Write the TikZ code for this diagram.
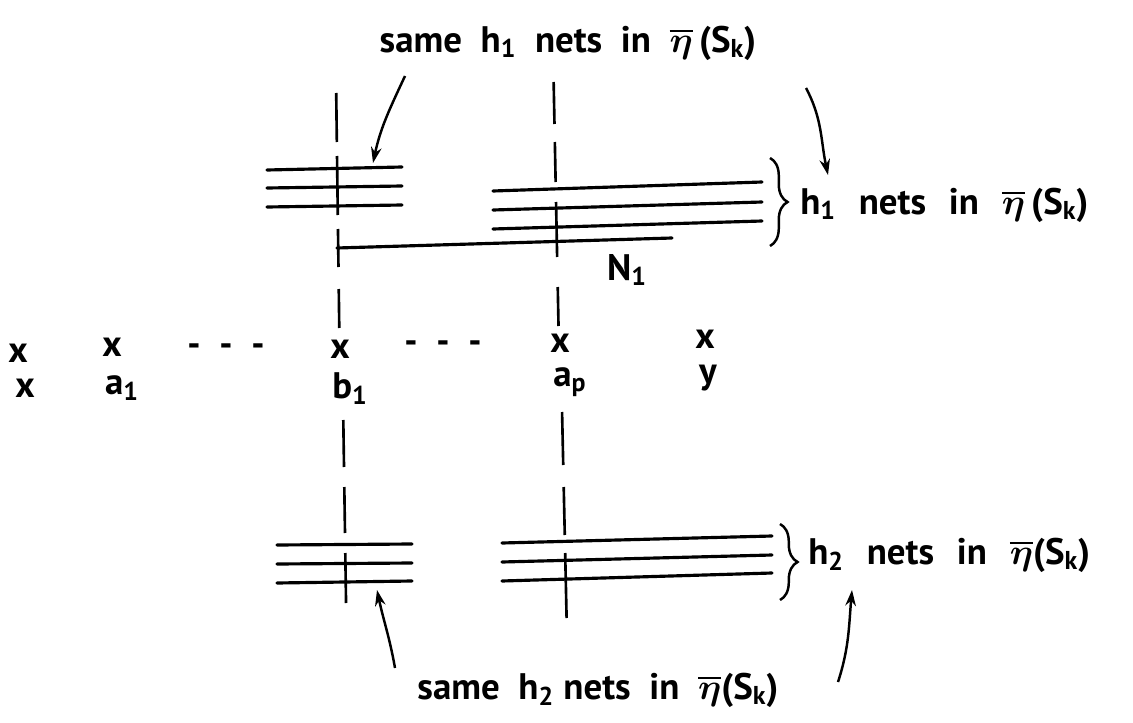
\documentclass[tikz,border=0pt]{standalone}
\usepackage{amsmath}
\usepackage{bm}
\usepackage{fontspec}
\setmainfont{PT Sans}
\usetikzlibrary{arrows.meta,decorations.pathreplacing,positioning}
\tikzset{
    net/.style={line width=1.8pt, line cap=round},
    probe/.style={line width=1.5pt},
    pointer/.style={line width=1.4pt, -{Stealth[length=9pt,width=6pt]}},
    lbl/.style={font=\fontsize{21}{24}\selectfont\bfseries, inner sep=0pt},
    brace/.style={line width=1.4pt, decorate, decoration={brace,amplitude=10pt}}
}
\newcommand{\etabar}{$\overline{\bm{\eta}}$}
\newcommand{\gap}{\hspace{13pt}}

\begin{document}
\begin{tikzpicture}[x=0.02cm,y=-0.02cm]
    \useasboundingbox (0,0) rectangle (1133,723);

    % Nets above
    \foreach \yl/\yr in {170/167,188/186,207/205} {
        \draw[net] (267,\yl) -- (402,\yr);
    }
    \foreach \yl/\yr in {191/182,210/202,229/221} {
        \draw[net] (493,\yl) -- (762,\yr);
    }
    \draw[net] (337,248) -- (672,238);

    % Nets below
    \foreach \yl/\yr in {545/544,564/563,583/581} {
        \draw[net] (277,\yl) -- (412,\yr);
    }
    \foreach \yl/\yr in {543/536,562/555,581/573} {
        \draw[net] (502,\yl) -- (772,\yr);
    }

    % Probes
    \foreach \a/\b in {93/142,156/215,229/267,289/328} {
        \draw[probe] (335+\a*0.013,\a) -- (335+\b*0.013,\b);
    }
    \foreach \a/\b in {82/124,142/182,202/257,287/326} {
        \draw[probe] (552+\a*0.02,\a) -- (552+\b*0.02,\b);
    }
    \foreach \a/\b in {420/467,487/533,553/603} {
        \draw[probe] (337+\a*0.015,\a) -- (337+\b*0.015,\b);
    }
    \foreach \a/\b in {412/465,487/535,553/618} {
        \draw[probe] (553+\a*0.022,\a) -- (553+\b*0.022,\b);
    }

    % Marks
    \foreach \n/\x/\y in {x/18/353,a/112/347,b/340/349,p/560/343,y/705/339} {
        \node[lbl] (mark\n) at (\x,\y) {x};
    }
    \foreach \n/\x/\y/\v in {
            x/25/388/x,
            a/122/388/a\textsubscript{1},
            b/350/389/b\textsubscript{1},
            p/570/382/a\textsubscript{p},
            y/708/378/y
            } {
        \node[lbl] (name\n) at (\x,\y) {\v};
    }
    \node[lbl] (dotsl) at (226,350) {-\ \ -\ \ -};
    \node[lbl] (dotsr) at (443,347) {-\ \ -\ \ -};
    \node[lbl] (nlbl) at (627,270) {N\textsubscript{1}};

    % Braces
    \draw[brace] (770,158) -- (770,246);
    \draw[brace] (780,524) -- (780,600);
    \node[lbl, anchor=west] (upper) at (800,205) {h\textsubscript{1}\gap nets\gap in\gap \etabar\,(S\textsubscript{k})};
    \node[lbl, anchor=west] (lower) at (808,555) {h\textsubscript{2}\gap nets\gap in\gap \etabar(S\textsubscript{k})};

    % Pointers
    \node[lbl] (top) at (568,43) {same\ \ h\textsubscript{1}\ \ nets\ \ in\ \ \etabar\,(S\textsubscript{k})};
    \node[lbl] (bottom) at (598,690) {same\ \ h\textsubscript{2}\ nets\ \ in\ \ \etabar(S\textsubscript{k})};
    \coordinate (topa) at (405,76);
    \coordinate (topb) at (806,88);
    \coordinate (bota) at (395,668);
    \coordinate (botb) at (838,682);
    \coordinate (tipa) at (373,163);
    \coordinate (tipb) at (828,175);
    \coordinate (tipc) at (377,590);
    \coordinate (tipd) at (852,590);
    \draw[pointer] (topa) to[out=245,in=78] (tipa);
    \draw[pointer] (topb) to[out=-62,in=102] (tipb);
    \draw[pointer] (bota) to[out=100,in=-78] (tipc);
    \draw[pointer] (botb) to[out=72,in=-95] (tipd);
\end{tikzpicture}
\end{document}
